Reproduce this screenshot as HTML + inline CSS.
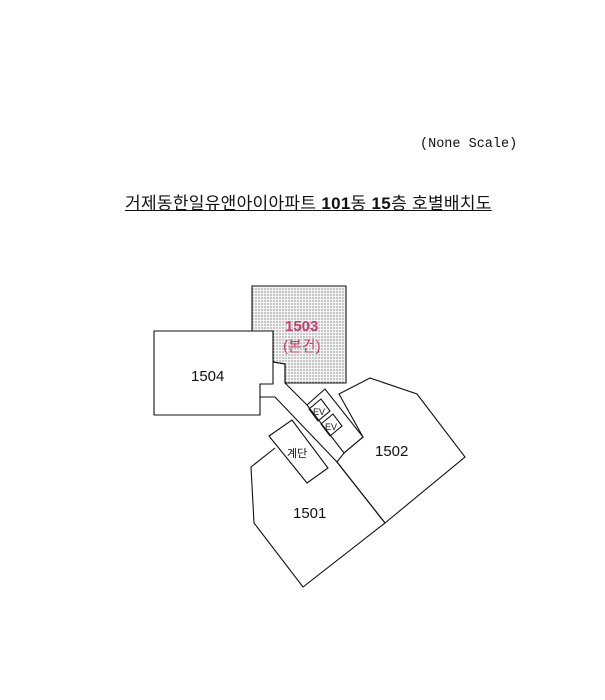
<!DOCTYPE html>
<html><head><meta charset="utf-8"><style>
body{margin:0;background:#fff;width:605px;height:700px;overflow:hidden;position:relative}
.t{position:absolute;font-family:"Liberation Sans","Noto Sans CJK KR",sans-serif;color:#111}
</style></head><body>
<div class="t" style="left:420px;top:137px;font-family:'Liberation Mono','DejaVu Sans Mono',monospace;font-size:13.5px;">(None Scale)</div>
<div class="t" style="left:125px;top:189px;font-size:17px;letter-spacing:0.3px;text-decoration:underline;white-space:nowrap;">거제동한일유앤아이아파트 <b>101</b>동 <b>15</b>층 호별배치도</div>
<svg width="605" height="700" style="position:absolute;left:0;top:0" xmlns="http://www.w3.org/2000/svg">
<defs><pattern id="d" width="3" height="3" patternUnits="userSpaceOnUse"><rect width="3" height="3" fill="#f4f4f4"/><circle cx="1" cy="1" r="0.6" fill="#555"/></pattern></defs>
<g fill="none" stroke="#111" stroke-width="1.1">
<polygon points="252,286 346,286 346,383 285,383 285,364 273,362 273,331 252,331" fill="url(#d)"/>
<polygon points="154,331 273,331 273,384 260,384 260,415 154,415" fill="#fff"/>
<polyline points="273,362 285,364 285,383"/>
<line x1="285" y1="383" x2="307" y2="405"/>
<polyline points="260,397 275,397 337,462 385,523"/>
<polygon points="339,394 370,378 417,394 465,457 385,523 337,462 344,453 363,437"/>
<polygon points="307,405 325,389 363,437 344,453"/>
<polygon points="309,409 321,399 330,411 318,421"/>
<polygon points="321,424 333,414 342,426 330,436"/>
<polygon points="269,436 292,420 328,468 307,483"/>
<polyline points="275,448 251,467 254,523 303,587 385,523"/>
</g>
<g font-family="Liberation Sans, Noto Sans CJK KR, sans-serif" fill="#111">
<text x="191" y="381" font-size="15">1504</text>
<text x="285" y="331" font-size="15" font-weight="bold" fill="#c0406a">1503</text>
<text x="283" y="351" font-size="15" fill="#c0406a">(본건)</text>
<text x="375" y="456" font-size="15">1502</text>
<text x="293" y="518" font-size="15">1501</text>
<text x="287" y="457" font-size="11">계단</text>
<text x="313" y="415" font-size="9">EV</text>
<text x="325" y="430" font-size="9">EV</text>
</g>
</svg>
</body></html>
